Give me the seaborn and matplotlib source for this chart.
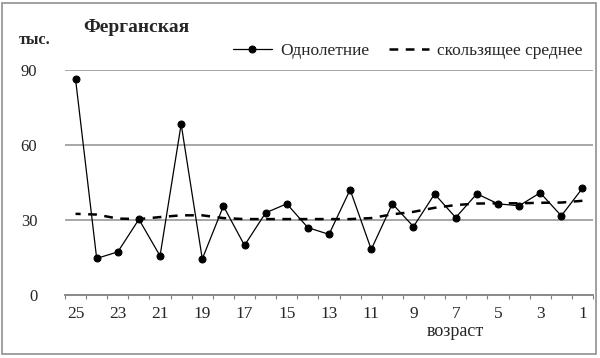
import matplotlib
matplotlib.use("Agg")
import matplotlib.pyplot as plt
import seaborn as sns
import pandas as pd
from matplotlib.ticker import FixedLocator
from matplotlib.patches import Rectangle

ages = list(range(25, 0, -1))
annual = [86.1, 14.6, 17.2, 30.2, 15.6, 68.2, 14.4, 35.5, 19.8, 32.8,
          36.4, 26.9, 24.2, 42.0, 18.2, 36.4, 27.3, 40.3, 30.9, 40.4,
          36.4, 35.6, 40.8, 31.6, 42.6]
moving_avg = [32.4, 32.1, 30.5, 30.3, 31.1, 31.8, 31.8, 30.7, 30.3, 30.3,
              30.3, 30.3, 30.3, 30.3, 30.7, 32.2, 33.2, 34.8, 35.9, 36.5,
              36.6, 36.6, 36.8, 36.9, 37.6]
yticks = [0, 30, 60, 90]
xlabels = [25, 23, 21, 19, 17, 15, 13, 11, 9, 7, 5, 3, 1]

df = pd.DataFrame({"age": ages, "annual": annual, "ma": moving_avg})

sns.set_style("white")
plt.rcParams["font.family"] = ["Liberation Serif", "DejaVu Serif"]

W, H = 600, 358
fig = plt.figure(figsize=(W / 100, H / 100), dpi=100)
ax = fig.add_axes([65 / W, (H - 295) / H, (593 - 65) / W, (295 - 69.5) / H])

sns.lineplot(data=df, x="age", y="annual", ax=ax, color="black", lw=0.9,
             marker="o", markersize=5, markeredgecolor="black",
             label="Однолетние")
sns.lineplot(data=df, x="age", y="ma", ax=ax, color="black", lw=1.8,
             label="скользящее среднее")
ax.lines[-1].set_dashes((3.5, 3))

ax.set_xlim(25.5, 0.5)
ax.set_ylim(0, 90)
ax.set_yticks(yticks)
ax.set_yticklabels([str(v) for v in yticks], fontsize=12)
ax.set_xticks(xlabels)
ax.set_xticklabels([str(v) for v in xlabels], fontsize=12.5)
ax.xaxis.set_minor_locator(FixedLocator([a + 0.5 for a in range(0, 26)]))
ax.tick_params(axis="x", which="major", length=0, pad=8)
ax.tick_params(axis="x", which="minor", length=3, width=0.8, color="#808080",
               direction="out", bottom=True)
ax.tick_params(axis="y", length=0, pad=20)

for v in yticks[1:]:
    ax.axhline(v, color="#a0a0a0", lw=1.3, zorder=0)

for s in ["top", "right", "left"]:
    ax.spines[s].set_visible(False)
ax.spines["bottom"].set_color("#808080")
ax.spines["bottom"].set_linewidth(1.3)

ax.set_xlabel("")
ax.set_ylabel("")

leg = ax.legend(ncol=2, loc="lower right", bbox_to_anchor=(1.0, 1.0),
                frameon=False, fontsize=12.5, handlelength=2.3,
                columnspacing=1.15, handletextpad=0.45, borderaxespad=0.2)

fig.text(83 / W, 1 - 27 / H, "Ферганская", fontsize=14, fontweight="bold",
         va="center", ha="left")
fig.text(19 / W, 1 - 40 / H, "тыс.", fontsize=11.5, fontweight="bold",
         va="center", ha="left")
fig.text(455 / W, 1 - 332 / H, "возраст", fontsize=13,
         va="center", ha="center")

fig.patches.append(Rectangle((2 / W, 4 / H), 594 / W, 351 / H,
                             transform=fig.transFigure, fill=False,
                             edgecolor="#909090", lw=1.2))

fig.savefig("out.png", dpi=100)
